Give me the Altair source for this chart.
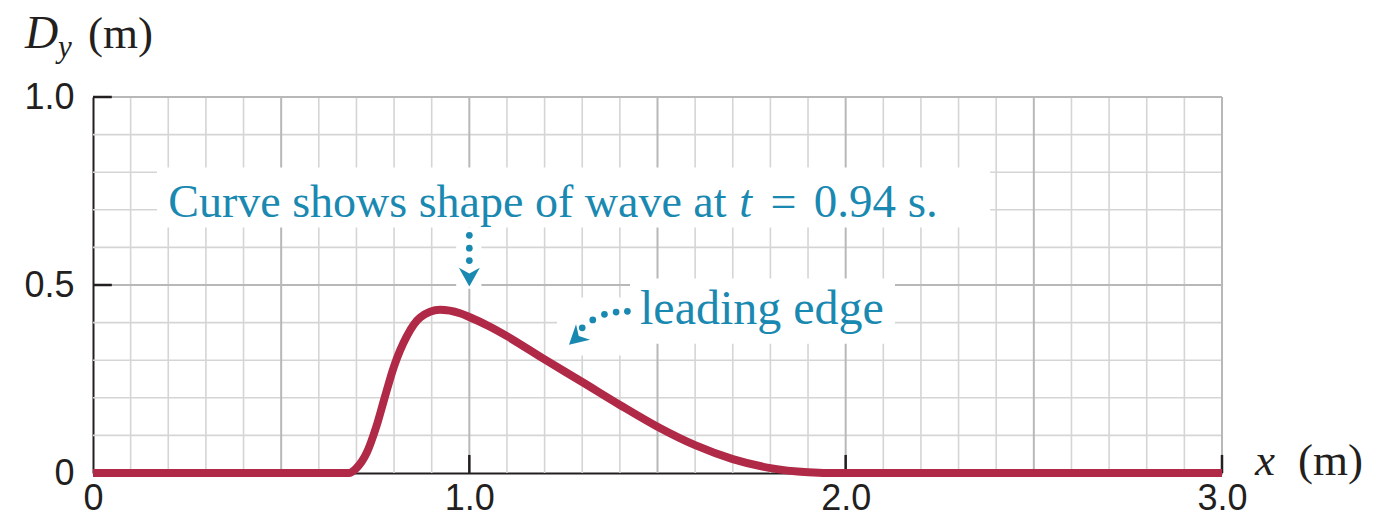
import altair as alt
import pandas as pd

# ---- data ----
wave_x = [0.0, 0.68, 0.70, 0.727, 0.753, 0.776, 0.80, 0.834, 0.869, 0.922, 0.975, 1.0,
          1.055, 1.1, 1.2, 1.3, 1.4, 1.5, 1.6, 1.7, 1.8, 1.9, 1.95, 3.0]
wave_y = [0.0, 0.0, 0.013, 0.053, 0.124, 0.204, 0.284, 0.364, 0.413, 0.434, 0.425, 0.415,
          0.389, 0.364, 0.302, 0.242, 0.181, 0.123, 0.074, 0.037, 0.013, 0.002, 0.0, 0.0]

x_ticks = [0, 1.0, 2.0, 3.0]
y_ticks = [0, 0.5, 1.0]

x_grid_minor = [0.1, 0.2, 0.3, 0.4, 0.6, 0.7, 0.8, 0.9, 1.1, 1.2, 1.3, 1.4, 1.6, 1.7, 1.8, 1.9,
                2.1, 2.2, 2.3, 2.4, 2.6, 2.7, 2.8, 2.9]
x_grid_major = [0.5, 1.0, 1.5, 2.0, 2.5, 3.0]
y_grid_minor = [0.1, 0.2, 0.3, 0.4, 0.6, 0.7, 0.8, 0.9]
y_grid_major = [0.5, 1.0]

# inward tick marks (data units)
x_tick_marks = [1.0, 2.0, 3.0]
x_tick_len = 0.048
y_tick_marks = [0.5, 1.0]
y_tick_len = 0.05

# white backgrounds behind annotations
box_x = [0.170, 0.965, 1.233, 1.427]
box_x2 = [2.384, 1.032, 1.427, 2.131]
box_y = [0.8125, 0.653, 0.467, 0.517]
box_y2 = [0.653, 0.49, 0.3125, 0.344]

# dotted arrows
dot_x = [1.0, 1.0, 1.0, 1.42, 1.39, 1.359, 1.328, 1.300]
dot_y = [0.632, 0.598, 0.565, 0.430, 0.428, 0.422, 0.407, 0.386]
head_x = [1.0, 1.2835]
head_y = [0.521, 0.358]
head_angle = [0, 48]

# annotation text pieces
ann_text = ["Curve shows shape of wave at", "t", "=", "0.94 s.", "leading edge"]
ann_x = [0.200, 1.717, 1.835, 1.915, 1.4536]
ann_y = [0.680, 0.680, 0.680, 0.680, 0.3976]
ann_size = [46, 46, 46, 47, 48]
ann_italic = [False, True, False, False, False]
ann_align = ["left", "left", "center", "left", "left"]

# axis titles
ttl_text = ["D", "y", "(m)", "x", "(m)"]
ttl_x = [-0.1807, -0.0930, -0.0133, 3.0879, 3.2022]
ttl_y = [1.1316, 1.1077, 1.1316, -0.0066, -0.0066]
ttl_size = [46, 31, 45, 45, 45]
ttl_italic = [True, True, False, True, False]

TEAL = "#1a89b1"
RED = "#b02a47"
INK = "#231f20"

xs = alt.Scale(domain=[0, 3], nice=False, zero=False)
ys = alt.Scale(domain=[0, 1], nice=False, zero=False)

x_axis = alt.Axis(values=x_ticks, labelExpr="datum.value == 0 ? '0' : format(datum.value, '.1f')",
                  ticks=False, tickSize=0, grid=False, domain=True, domainColor=INK, domainWidth=2,
                  labelFont="Liberation Sans", labelFontSize=36, labelColor=INK, labelPadding=8,
                  labelFlush=False, labelOverlap=False, title=None)
y_axis = alt.Axis(values=y_ticks, labelExpr="datum.value == 0 ? '0' : format(datum.value, '.1f')",
                  ticks=False, tickSize=0, grid=False, domain=True, domainColor=INK, domainWidth=2,
                  labelFont="Liberation Sans", labelFontSize=36, labelColor=INK, labelPadding=19,
                  labelFlush=False, labelOverlap=False, title=None)


def X(f):
    return alt.X(f, type="quantitative", scale=xs, axis=x_axis)


def Y(f):
    return alt.Y(f, type="quantitative", scale=ys, axis=y_axis)


layers = []

# grid
layers.append(alt.Chart(pd.DataFrame({"x": x_grid_minor})).mark_rule(color="#d5d5d5", strokeWidth=1.6).encode(x=X("x")))
layers.append(alt.Chart(pd.DataFrame({"y": y_grid_minor})).mark_rule(color="#d5d5d5", strokeWidth=1.6).encode(y=Y("y")))
layers.append(alt.Chart(pd.DataFrame({"x": x_grid_major})).mark_rule(color="#b8b8b8", strokeWidth=2).encode(x=X("x")))
layers.append(alt.Chart(pd.DataFrame({"y": y_grid_major})).mark_rule(color="#b8b8b8", strokeWidth=2).encode(y=Y("y")))

# white boxes
layers.append(alt.Chart(pd.DataFrame({"x": box_x, "x2": box_x2, "y": box_y, "y2": box_y2}))
              .mark_rect(color="white").encode(x=X("x"), x2="x2", y=Y("y"), y2="y2"))

# inward ticks
layers.append(alt.Chart(pd.DataFrame({"x": x_tick_marks, "y": [0] * len(x_tick_marks), "y2": [x_tick_len] * len(x_tick_marks)}))
              .mark_rule(color=INK, strokeWidth=2.5).encode(x=X("x"), y=Y("y"), y2="y2"))
layers.append(alt.Chart(pd.DataFrame({"y": y_tick_marks, "x": [0] * len(y_tick_marks), "x2": [y_tick_len] * len(y_tick_marks)}))
              .mark_rule(color=INK, strokeWidth=2.5).encode(y=Y("y"), x=X("x"), x2="x2"))

# wave curve
layers.append(alt.Chart(pd.DataFrame({"x": wave_x, "y": wave_y}))
              .mark_line(color=RED, strokeWidth=8, interpolate="monotone", strokeCap="butt", strokeJoin="round")
              .encode(x=X("x"), y=Y("y"), order="x:Q"))

# dotted arrows
layers.append(alt.Chart(pd.DataFrame({"x": dot_x, "y": dot_y}))
              .mark_circle(color=TEAL, size=45, opacity=1).encode(x=X("x"), y=Y("y")))
layers.append(alt.Chart(pd.DataFrame({"x": head_x, "y": head_y, "a": head_angle}))
              .mark_point(shape="M0,0.9L-1,-0.9L0,-0.35L1,-0.9Z", filled=True, color=TEAL, size=441, opacity=1, strokeWidth=0)
              .encode(x=X("x"), y=Y("y"), angle=alt.Angle("a:Q", scale=None)))

# annotation text
for t, x, y, s, it, al in zip(ann_text, ann_x, ann_y, ann_size, ann_italic, ann_align):
    layers.append(alt.Chart(pd.DataFrame({"x": [x], "y": [y], "t": [t]}))
                  .mark_text(font="Liberation Serif", fontSize=s, color=TEAL, align=al, baseline="alphabetic",
                             fontStyle="italic" if it else "normal")
                  .encode(x=X("x"), y=Y("y"), text="t:N"))

# axis titles
for t, x, y, s, it in zip(ttl_text, ttl_x, ttl_y, ttl_size, ttl_italic):
    layers.append(alt.Chart(pd.DataFrame({"x": [x], "y": [y], "t": [t]}))
                  .mark_text(font="Liberation Serif", fontSize=s, color=INK, align="left", baseline="alphabetic",
                             fontStyle="italic" if it else "normal")
                  .encode(x=X("x"), y=Y("y"), text="t:N"))

chart = alt.layer(*layers).properties(
    width=1129, height=376,
    padding={"left": 85, "top": 89, "right": 145, "bottom": 45},
    autosize=alt.AutoSizeParams(type="none"),
    background="white",
).configure_view(strokeWidth=0)

chart.save("out.html", embed_options={"renderer": "svg", "actions": False})
